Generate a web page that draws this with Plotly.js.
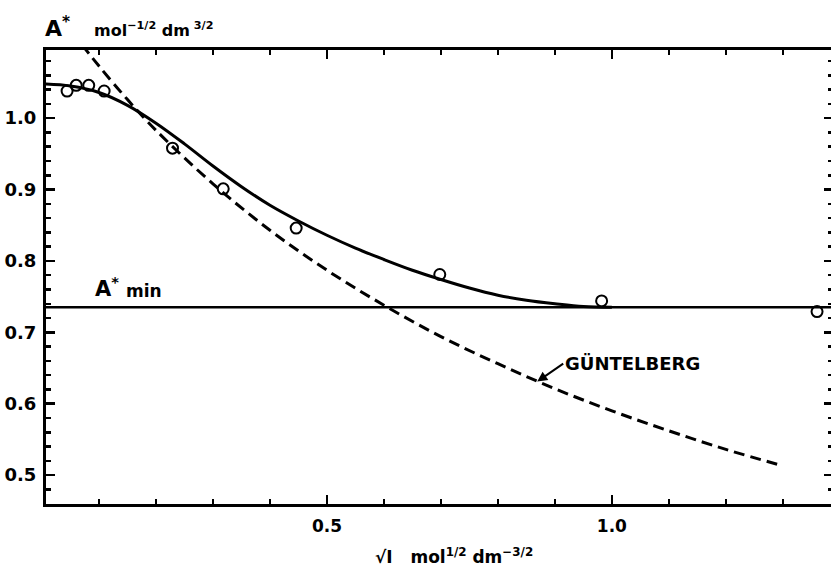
<!DOCTYPE html>
<html>
<head>
<meta charset="utf-8">
<script src="https://cdn.plot.ly/plotly-3.0.1.min.js"></script>
<style>
html,body{margin:0;padding:0;overflow:hidden;background:#fff;}
#chart{width:836px;height:568px;}
</style>
</head>
<body>
<div id="chart"></div>
<script>
// Measured points (open circles)
const pointX = [0.044, 0.060, 0.082, 0.109, 0.229, 0.318, 0.446, 0.698, 0.982, 1.360];
const pointY = [1.038, 1.046, 1.046, 1.038, 0.958, 0.901, 0.846, 0.781, 0.744, 0.729];

// Solid fitted curve
const fitX = [0, 0.05, 0.1, 0.15, 0.2, 0.25, 0.3, 0.35, 0.4, 0.45, 0.5, 0.55, 0.6, 0.65, 0.7, 0.75, 0.8, 0.85, 0.9, 0.95, 1.0];
const fitY = [1.048, 1.045, 1.036, 1.018, 0.993, 0.964, 0.933, 0.904, 0.878, 0.856, 0.836, 0.818, 0.802, 0.787, 0.774, 0.762, 0.752, 0.745, 0.740, 0.736, 0.735];

// Dashed Güntelberg curve
const gunX = [0.07, 0.1, 0.15, 0.2, 0.3, 0.4, 0.5, 0.6, 0.7, 0.8, 0.9, 1.0, 1.1, 1.2, 1.3];
const gunY = [1.103, 1.073, 1.026, 0.983, 0.908, 0.843, 0.787, 0.738, 0.694, 0.656, 0.621, 0.590, 0.562, 0.536, 0.513];

// Horizontal A*min level
const aMin = 0.735;

// Tick labels
const xTickVals = [0.5, 1.0];
const xTickText = ['0.5', '1.0'];
const xMinorVals = [0.1, 0.2, 0.3, 0.4, 0.6, 0.7, 0.8, 0.9, 1.1, 1.2, 1.3];
const yTickVals = [0.5, 0.6, 0.7, 0.8, 0.9, 1.0];
const yTickText = ['0.5', '0.6', '0.7', '0.8', '0.9', '1.0'];

const FONT = 'DejaVu Sans, Liberation Sans, sans-serif';
const W = 836, H = 568;
const L = 46, R = 833, T = 50, B = 504;
const px = v => (v - L) / (R - L);
const py = v => (B - v) / (B - T);

const traces = [
  {x: fitX, y: fitY, mode: 'lines', line: {color: '#000', width: 3, shape: 'spline', smoothing: 1}, hoverinfo: 'skip'},
  {x: gunX, y: gunY, mode: 'lines', line: {color: '#000', width: 3, dash: '11px,6px', shape: 'spline'}, hoverinfo: 'skip'},
  {x: pointX, y: pointY, mode: 'markers', marker: {symbol: 'circle-open', size: 11, color: '#000', line: {width: 2, color: '#000'}}, cliponaxis: false, hoverinfo: 'skip'}
];

const layout = {
  width: W, height: H,
  margin: {l: L, r: W - R, t: T, b: H - B, pad: 0},
  paper_bgcolor: '#fff', plot_bgcolor: '#fff',
  showlegend: false,
  xaxis: {
    range: [0.007, 1.388], showgrid: false, zeroline: false,
    showline: true, linecolor: '#000', linewidth: 3, mirror: 'allticks',
    ticks: 'inside', ticklen: 9, tickwidth: 2.5, tickcolor: '#000',
    tickmode: 'array', tickvals: xTickVals, ticktext: xTickText,
    tickfont: {family: FONT, size: 17, color: '#000', weight: 'bold'},
    ticklabelstandoff: 5,
    minor: {tickmode: 'array', tickvals: xMinorVals, ticks: 'inside', ticklen: 5, tickwidth: 2.5, tickcolor: '#000', showgrid: false}
  },
  yaxis: {
    range: [0.4595, 1.0955], showgrid: false, zeroline: false,
    showline: true, linecolor: '#000', linewidth: 3, mirror: 'allticks',
    ticks: 'inside', ticklen: 9, tickwidth: 2.5, tickcolor: '#000',
    tickmode: 'array', tickvals: yTickVals, ticktext: yTickText,
    tickfont: {family: FONT, size: 18, color: '#000', weight: 'bold'},
    ticklabelstandoff: 3,
    minor: {tick0: 0, dtick: 0.02, ticks: 'inside', ticklen: 5, tickwidth: 2.5, tickcolor: '#000', showgrid: false}
  },
  shapes: [
    {type: 'line', xref: 'paper', x0: 0, x1: 1, yref: 'y', y0: aMin, y1: aMin, line: {color: '#000', width: 2.5}}
  ],
  annotations: [
    {xref: 'paper', yref: 'paper', x: px(43), y: py(43), xanchor: 'left', yanchor: 'bottom', showarrow: false,
     text: 'A<sup>*</sup>', font: {family: FONT, size: 22, color: '#000', weight: 'bold'}},
    {xref: 'paper', yref: 'paper', x: px(92), y: py(42), xanchor: 'left', yanchor: 'bottom', showarrow: false,
     text: 'mol<sup>−1/2</sup> dm<sup> 3/2</sup>', font: {family: FONT, size: 16, color: '#000', weight: 'bold'}},
    {xref: 'paper', yref: 'paper', x: px(93), y: py(303), xanchor: 'left', yanchor: 'bottom', showarrow: false,
     text: 'A<sup>*</sup>', font: {family: FONT, size: 21, color: '#000', weight: 'bold'}},
    {xref: 'paper', yref: 'paper', x: px(124), y: py(303), xanchor: 'left', yanchor: 'bottom', showarrow: false,
     text: 'min', font: {family: FONT, size: 17, color: '#000', weight: 'bold'}},
    {xref: 'x', yref: 'y', x: 0.869, y: 0.631, ax: 26, ay: -18, xanchor: 'left', yanchor: 'middle',
     showarrow: true, arrowhead: 2, arrowsize: 1, arrowwidth: 2, arrowcolor: '#000', standoff: 0,
     text: 'GÜNTELBERG', font: {family: FONT, size: 18, color: '#000', weight: 'bold'}},
    {xref: 'paper', yref: 'paper', x: px(373), y: py(569), xanchor: 'left', yanchor: 'bottom', showarrow: false,
     text: '√I   mol<sup>1/2</sup> dm<sup>−3/2</sup>', font: {family: FONT, size: 17, color: '#000', weight: 'bold'}}
  ]
};

Plotly.newPlot('chart', traces, layout, {displayModeBar: false, staticPlot: true});
</script>
</body>
</html>
